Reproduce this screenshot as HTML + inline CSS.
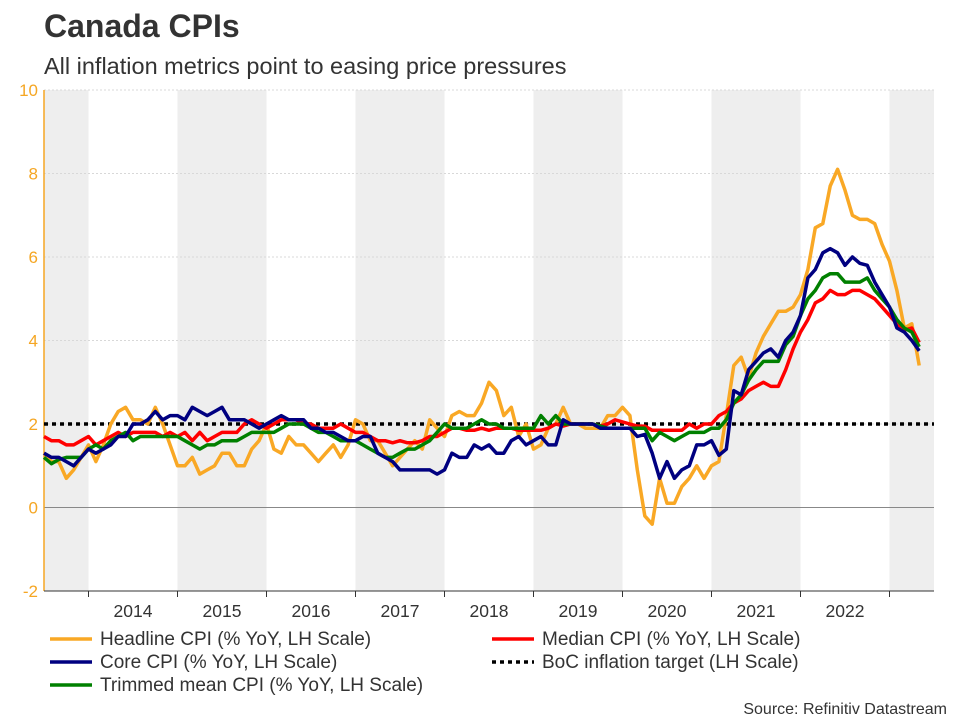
<!DOCTYPE html>
<html><head><meta charset="utf-8"><style>
body{margin:0;background:#fff;font-family:"Liberation Sans",Arial,sans-serif;}
svg text{font-family:"Liberation Sans",Arial,sans-serif;}
</style></head><body>
<svg id="c" width="960" height="720">
<text x="44" y="37" font-size="32" font-weight="bold" fill="#333">Canada CPIs</text>
<text x="44" y="74" font-size="23.5" fill="#333">All inflation metrics point to easing price pressures</text>
<g id="bands"></g><g id="grid"></g><g id="axes"></g><g id="series"></g><g id="legend"></g>
<text x="947" y="714" font-size="16" fill="#333" text-anchor="end">Source: Refinitiv Datastream</text>
</svg>
<script>
const years=[2014,2015,2016,2017,2018,2019,2020,2021,2022];
const yTicks=[-2,0,2,4,6,8,10];
const target=2;
// Monthly values Jul 2013 .. May 2023
const headline=[1.3,1.1,1.1,0.7,0.9,1.2,
1.5,1.1,1.5,2.0,2.3,2.4,2.1,2.1,2.0,2.4,2.0,1.5,
1.0,1.0,1.2,0.8,0.9,1.0,1.3,1.3,1.0,1.0,1.4,1.6,
2.0,1.4,1.3,1.7,1.5,1.5,1.3,1.1,1.3,1.5,1.2,1.5,
2.1,2.0,1.6,1.6,1.3,1.0,1.2,1.4,1.6,1.4,2.1,1.9,
1.7,2.2,2.3,2.2,2.2,2.5,3.0,2.8,2.2,2.4,1.7,2.0,
1.4,1.5,1.9,2.0,2.4,2.0,2.0,1.9,1.9,1.9,2.2,2.2,
2.4,2.2,0.9,-0.2,-0.4,0.7,0.1,0.1,0.5,0.7,1.0,0.7,
1.0,1.1,2.2,3.4,3.6,3.1,3.7,4.1,4.4,4.7,4.7,4.8,
5.1,5.7,6.7,6.8,7.7,8.1,7.6,7.0,6.9,6.9,6.8,6.3,
5.9,5.2,4.3,4.4,3.4];
const core=[1.3,1.2,1.2,1.1,1.0,1.2,
1.4,1.3,1.4,1.5,1.7,1.7,2.0,2.0,2.1,2.3,2.1,2.2,
2.2,2.1,2.4,2.3,2.2,2.3,2.4,2.1,2.1,2.1,2.0,1.9,
2.0,2.1,2.2,2.1,2.1,2.1,1.9,1.9,1.8,1.8,1.7,1.6,
1.6,1.7,1.7,1.3,1.2,1.1,0.9,0.9,0.9,0.9,0.9,0.8,
0.9,1.3,1.2,1.2,1.5,1.4,1.5,1.3,1.3,1.6,1.7,1.5,
1.6,1.7,1.5,1.5,2.1,2.0,2.0,2.0,2.0,1.9,1.9,1.9,
1.9,1.9,1.7,1.75,1.3,0.7,1.1,0.7,0.9,1.0,1.5,1.5,
1.6,1.25,1.4,2.8,2.7,3.3,3.5,3.7,3.8,3.6,4.0,4.2,
4.6,5.5,5.7,6.1,6.2,6.1,5.8,6.0,5.85,5.8,5.4,5.1,
4.8,4.3,4.2,4.0,3.75];
const trimmed=[1.2,1.05,1.15,1.2,1.2,1.2,
1.4,1.5,1.4,1.6,1.7,1.8,1.6,1.7,1.7,1.7,1.7,1.7,
1.7,1.6,1.5,1.4,1.5,1.5,1.6,1.6,1.6,1.7,1.8,1.8,
1.8,1.8,1.9,2.0,2.0,2.0,1.9,1.8,1.8,1.7,1.6,1.6,
1.6,1.5,1.4,1.3,1.2,1.2,1.3,1.4,1.4,1.5,1.6,1.8,
2.0,1.9,1.9,1.9,2.0,2.1,2.0,2.0,1.9,1.9,1.9,1.9,
1.9,2.2,2.0,2.2,2.0,2.0,2.0,2.0,2.0,1.95,1.9,1.9,
1.9,1.9,1.9,1.9,1.6,1.8,1.7,1.6,1.7,1.8,1.8,1.8,
1.9,1.9,2.1,2.5,2.7,3.05,3.3,3.5,3.5,3.5,3.9,4.1,
4.6,5.0,5.2,5.5,5.6,5.6,5.4,5.4,5.4,5.5,5.2,5.0,
4.8,4.5,4.3,4.2,3.85];
const median=[1.7,1.6,1.6,1.5,1.5,1.6,
1.7,1.5,1.6,1.7,1.8,1.7,1.8,1.8,1.8,1.8,1.7,1.8,
1.7,1.8,1.6,1.8,1.6,1.7,1.8,1.8,1.8,2.0,2.1,2.0,
1.9,2.0,2.1,2.1,2.1,2.0,2.0,1.9,1.9,1.9,2.0,1.9,
1.8,1.8,1.7,1.6,1.6,1.55,1.6,1.55,1.55,1.6,1.7,1.7,
1.8,1.9,1.9,1.85,1.85,1.9,1.85,1.9,1.9,1.9,1.85,1.85,
1.85,1.85,1.9,2.0,1.95,2.0,2.0,2.0,2.0,1.95,2.0,2.1,
2.05,2.0,1.95,1.95,1.85,1.85,1.85,1.85,1.85,2.0,1.9,2.0,
2.0,2.2,2.3,2.5,2.6,2.8,2.9,3.0,2.9,2.9,3.3,3.8,
4.2,4.5,4.9,5.0,5.2,5.1,5.1,5.2,5.2,5.1,5.0,4.8,
4.6,4.4,4.25,4.3,3.95];
const NS='http://www.w3.org/2000/svg';
const L=44,R=934,T=90,B=591,yMin=-2,yMax=10;
const yS=v=>B-(v-yMin)/(yMax-yMin)*(B-T);
const xM=i=>L+i*89/12; // i = months since Jul 2013
const xY=y=>88.5+(y-2014)*89;
function mk(tag,attrs,parent){const e=document.createElementNS(NS,tag);for(const k in attrs)e.setAttribute(k,attrs[k]);document.getElementById(parent).appendChild(e);return e;}
[2013,2015,2017,2019,2021,2023].forEach(y=>{
 const x0=Math.max(L,xY(y)),x1=Math.min(R,xY(y+1));
 const r=mk('rect',{x:x0,y:T,width:x1-x0,height:B-T,fill:'#eeeeee'},'bands');
 
 
});
yTicks.forEach(v=>{
 if(v!==0&&v!==yMin){const g=mk('line',{x1:L,x2:R,y1:yS(v),y2:yS(v),stroke:'#d8d8d8','stroke-dasharray':'2,2','stroke-width':1},'grid');
 
 }
 const t=mk('text',{x:L-6,y:yS(v)+6,'font-size':17,fill:'#f5a623','text-anchor':'end'},'axes');
 t.textContent=v;
 
 
});
const z=mk('line',{x1:L,x2:R,y1:yS(0),y2:yS(0),stroke:'#888','stroke-width':1},'grid');


const ya=mk('line',{x1:L,x2:L,y1:T,y2:B,stroke:'#f5a623','stroke-width':1.5},'axes');


const xa=mk('line',{x1:L,x2:R,y1:B,y2:B,stroke:'#333','stroke-width':1},'axes');


years.concat([2023]).forEach(y=>{
 const tk=mk('line',{x1:xY(y),x2:xY(y),y1:B,y2:B+6,stroke:'#333'},'axes');
 
 
});
years.forEach(y=>{
 const t=mk('text',{x:xY(y)+44.5,y:B+26,'font-size':17.5,fill:'#333','text-anchor':'middle'},'axes');
 t.textContent=y;
 
 
});
const tl=mk('line',{x1:L,x2:R,y1:yS(target),y2:yS(target),stroke:'#000','stroke-width':3.5,'stroke-dasharray':'4,4'},'series');


function line(d,col,name){
 const p=mk('polyline',{points:d.map((v,i)=>xM(i).toFixed(1)+','+yS(v).toFixed(1)).join(' '),fill:'none',stroke:col,'stroke-width':3.5,'stroke-linejoin':'round'},'series');
 
 
}
line(headline,'#f9a825','headline-cpi-line');
line(median,'#ff0000','median-cpi-line');
line(trimmed,'#008000','trimmed-mean-cpi-line');
line(core,'#000080','core-cpi-line');
const leg=[['Headline CPI (% YoY, LH Scale)','#f9a825',50,639,0],['Core CPI (% YoY, LH Scale)','#000080',50,662,0],['Trimmed mean CPI (% YoY, LH Scale)','#008000',50,685,0],['Median CPI (% YoY, LH Scale)','#ff0000',492,639,0],['BoC inflation target (LH Scale)','#000',492,662,1]];
leg.forEach(([lab,col,x,y,dot])=>{
 const s=mk('line',{x1:x,x2:x+42,y1:y,y2:y,stroke:col,'stroke-width':3.5},'legend');
 if(dot)s.setAttribute('stroke-dasharray','4,4');
 
 
 const t=mk('text',{x:x+50,y:y+6,'font-size':19,fill:'#333'},'legend');
 t.textContent=lab;
 
 
});
</script>
</body></html>
